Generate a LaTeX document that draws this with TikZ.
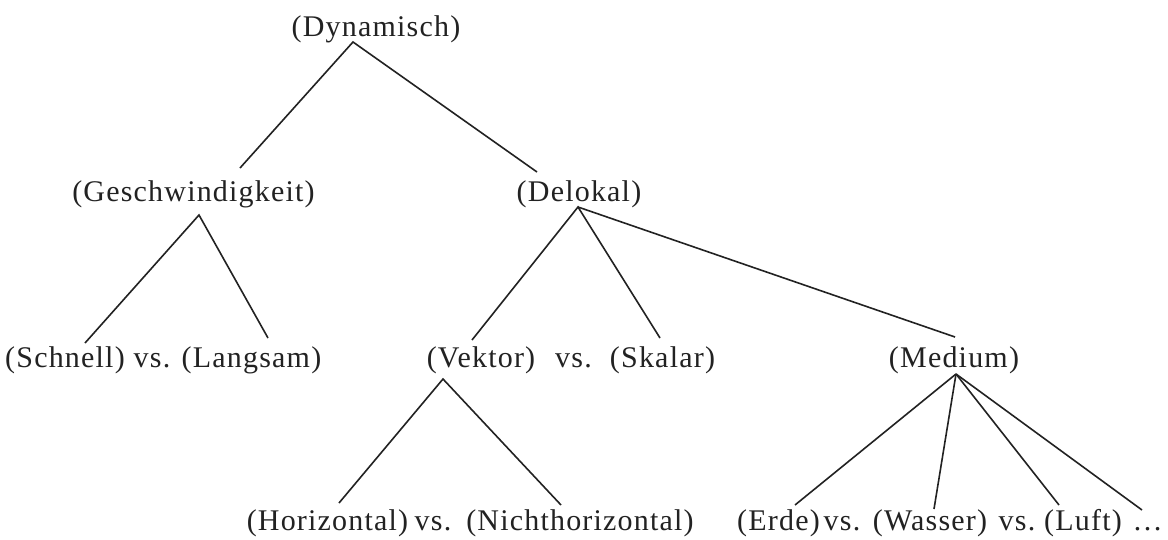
\documentclass[tikz,border=0pt]{standalone}
\usepackage{fontspec}
\setmainfont[LetterSpace=4]{Liberation Serif}
\usetikzlibrary{calc}
\definecolor{ink}{HTML}{222222}
\begin{document}
\begin{tikzpicture}[x=1pt,y=-1pt,
  term/.style={anchor=base,inner sep=0pt,text=ink,font=\fontsize{30}{36}\selectfont},
  branch/.style={draw=ink,line width=1.6pt}]
\useasboundingbox[fill=white] (0,0) rectangle (1168,539);
% row 1
\node[term] (dyn) at (376,36) {(Dynamisch)};
% row 2
\node[term] (gesch) at (193.5,201) {(Geschwindigkeit)};
\node[term] (del) at (579,201) {(Delokal)};
% row 3
\node[term] (schnell) at (65,367) {(Schnell)};
\node[term] (vs1) at (152,367) {vs.};
\node[term] (lang) at (251.5,367) {(Langsam)};
\node[term] (vek) at (481,367) {(Vektor)};
\node[term] (vs2) at (573.5,367) {vs.};
\node[term] (skal) at (662.5,367) {(Skalar)};
\node[term] (med) at (954,367) {(Medium)};
% row 4
\node[term] (hor) at (327.5,530) {(Horizontal)};
\node[term] (vs3) at (433,530) {vs.};
\node[term] (nicht) at (580,530) {(Nichthorizontal)};
\node[term] (erde) at (778.5,530) {(Erde)};
\node[term] (vs4) at (842,530) {vs.};
\node[term] (wasser) at (930,530) {(Wasser)};
\node[term] (vs5) at (1017,530) {vs.};
\node[term] (luft) at (1083,530) {(Luft)};
\node[term] (dots) at (1147.5,530) {\dots};
% attachment points
\coordinate (dynA) at ($(dyn.base)+(-23,6)$);
\coordinate (geschT) at ($(gesch.base)+(46.5,-33)$);
\coordinate (geschA) at ($(gesch.base)+(5.5,14)$);
\coordinate (delT) at ($(del.base)+(-42,-29)$);
\coordinate (delA) at ($(del.base)+(-1,6)$);
\coordinate (schnellT) at ($(schnell.base)+(20,-24)$);
\coordinate (langT) at ($(lang.base)+(16.5,-29)$);
\coordinate (vekT) at ($(vek.base)+(-9,-27)$);
\coordinate (vekA) at ($(vek.base)+(-38,12)$);
\coordinate (skalT) at ($(skal.base)+(-2.5,-29)$);
\coordinate (medT) at ($(med.base)+(1,-30)$);
\coordinate (medA) at ($(med.base)+(2,7)$);
\coordinate (horT) at ($(hor.base)+(11.5,-27)$);
\coordinate (nichtT) at ($(nicht.base)+(-19,-25)$);
\coordinate (erdeT) at ($(erde.base)+(16.5,-25)$);
\coordinate (wasserT) at ($(wasser.base)+(4,-21)$);
\coordinate (luftT) at ($(luft.base)+(-24,-25)$);
\coordinate (dotsT) at ($(dots.base)+(-5.5,-20)$);
% branches
\draw[branch] (geschT) -- (dynA) -- (delT);
\draw[branch] (schnellT) -- (geschA) -- (langT);
\draw[branch] (vekT) -- (delA) -- (skalT);
\draw[branch] (delA) -- (medT);
\draw[branch] (horT) -- (vekA) -- (nichtT);
\draw[branch] (medA) -- (erdeT);
\draw[branch] (medA) -- (wasserT);
\draw[branch] (medA) -- (luftT);
\draw[branch] (medA) -- (dotsT);
\end{tikzpicture}
\end{document}
